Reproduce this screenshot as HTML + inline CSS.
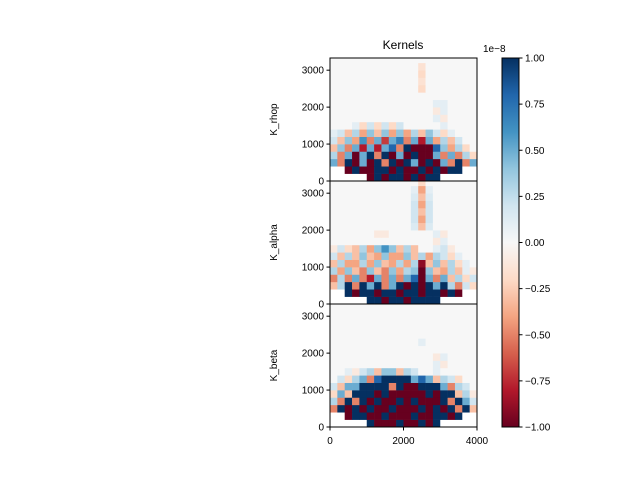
<!DOCTYPE html>
<html><head><meta charset="utf-8"><style>body{margin:0;background:#fff}svg{font-family:"Liberation Sans","DejaVu Sans",sans-serif}</style></head>
<body>
<svg id="c" width="640" height="480" xmlns="http://www.w3.org/2000/svg"></svg>
<script>
const n=null;
const panelNames=["K_rhop","K_alpha","K_beta"];
const xTicks=[0,2000,4000];
const yTicks=[0,1000,2000,3000];
const cbTicks=[1.00,0.75,0.50,0.25,0.00,-0.25,-0.50,-0.75,-1.00];
const kRhop=[
[n,n,n,n,n,-1,1,-1,1,1,-1,1,-1,1,1,n,n,n,n,n],
[n,n,-1,1,-1,-1,1,1,-1,1,-1,-1,1,-1,1,-1,1,1,n,n],
[.5,-.5,1,-1,.5,-1,1,-.5,1,-1,1,.5,-1,1,-1,.5,-.5,1,-.5,.5],
[.3,-.5,.5,-1,.5,1,-.5,1,-1,.5,-1,1,-1,-1,.5,-.5,.5,-.5,.3,-.2],
[-.3,.4,-.5,.5,-.8,.5,-.8,.5,.8,-.5,1,-1,-1,-1,.8,.4,-.4,.3,-.2,0],
[.2,-.3,.4,-.4,.6,-.5,.5,-.7,.5,.7,-.5,.5,-.8,.5,-.4,.3,-.3,.2,0,0],
[.1,.2,-.3,.3,-.4,.4,-.3,.4,-.4,.4,-.4,.3,-.3,.4,.2,-.2,.1,0,0,0],
[0,0,0,.1,-.2,.2,-.2,.2,-.2,.2,0,0,0,0,0,.1,0,0,0,0],
[0,0,0,0,0,0,0,0,0,0,0,0,0,0,.1,-.1,0,0,0,0],
[0,0,0,0,0,0,0,0,0,0,0,0,0,0,-.1,.1,0,0,0,0],
[0,0,0,0,0,0,0,0,0,0,0,0,0,0,.1,.1,0,0,0,0],
[0,0,0,0,0,0,0,0,0,0,0,0,0,0,0,0,0,0,0,0],
[0,0,0,0,0,0,0,0,0,0,0,0,-.2,0,0,0,0,0,0,0],
[0,0,0,0,0,0,0,0,0,0,0,0,-.15,0,0,0,0,0,0,0],
[0,0,0,0,0,0,0,0,0,0,0,0,-.2,0,0,0,0,0,0,0],
[0,0,0,0,0,0,0,0,0,0,0,0,-.15,0,0,0,0,0,0,0],
[0,0,0,0,0,0,0,0,0,0,0,0,0,0,0,0,0,0,0,0]];
const kAlpha=[
[n,n,n,n,n,1,1,-1,1,1,-1,1,1,1,1,n,n,n,n,n],
[n,n,1,-1,1,1,-1,1,1,-1,1,1,-1,1,1,-1,1,-1,n,n],
[-.3,.3,1,-.5,1,.5,1,-.5,.5,1,-1,1,-1,1,.5,1,.3,-.5,.2,-.2],
[-.5,.3,-.5,.5,-.5,-.8,.5,-.5,.5,-.5,.5,.8,-1,.5,-.5,.5,-.3,.3,-.2,.2],
[.3,-.4,.4,-.3,-.5,.4,-.3,-.5,.4,-.4,.3,.4,-1,.4,-.3,-.4,.3,-.3,.1,-.1],
[-.3,.3,-.4,-.4,.3,-.4,.4,-.3,-.4,.3,-.4,.3,-.9,-.3,.4,-.3,.3,-.2,.1,0],
[.2,-.3,.3,-.3,.4,-.3,-.4,.4,-.4,-.4,.4,-.3,.3,-.4,.3,.2,-.2,.1,0,0],
[-.1,.2,-.2,-.3,.3,-.4,.4,.6,.4,-.3,.3,-.3,0,0,.1,.2,-.1,0,0,0],
[0,0,0,0,0,0,0,0,0,0,0,0,0,0,-.1,.1,0,0,0,0],
[0,0,0,0,0,0,-.1,-.1,0,0,0,0,0,0,.1,-.1,0,0,0,0],
[0,0,0,0,0,0,0,0,0,0,0,.15,-.3,.15,0,0,0,0,0,0],
[0,0,0,0,0,0,0,0,0,0,0,.2,-.4,.2,0,0,0,0,0,0],
[0,0,0,0,0,0,0,0,0,0,0,.2,-.3,.2,0,0,0,0,0,0],
[0,0,0,0,0,0,0,0,0,0,0,.2,-.4,.2,0,0,0,0,0,0],
[0,0,0,0,0,0,0,0,0,0,0,.15,-.3,.15,0,0,0,0,0,0],
[0,0,0,0,0,0,0,0,0,0,0,.1,-.4,.1,0,0,0,0,0,0],
[0,0,0,0,0,0,0,0,0,0,0,0,-.2,0,0,0,0,0,0,0]];
const kBeta=[
[n,n,n,n,n,1,-1,-1,-1,1,-1,-1,1,-1,1,n,n,n,n,n],
[n,n,-1,1,1,-1,-1,1,-1,-1,-1,1,-1,-1,1,1,-1,1,n,n],
[-.5,1,-1,1,-1,1,-1,-1,1,-1,-1,-1,1,-1,1,-1,1,-.5,1,-.3],
[.3,-.5,1,-.5,1,-1,1,-1,-1,1,-1,1,-1,-1,-1,1,-.5,1,.5,.2],
[-.2,.5,-.3,1,1,1,-1,1,-1,-1,-1,-1,-1,1,-1,1,1,-.3,.3,-.1],
[.2,-.3,.5,.5,1,1,1,1,-.5,1,-1,-1,1,1,1,.5,-.5,.3,.2,0],
[0,.2,-.2,.3,.5,-.5,.8,1,1,1,1,.5,.8,.5,-.3,.3,.2,-.2,0,0],
[0,0,.1,-.1,.2,.3,-.3,.4,.4,-.3,.3,.2,0,0,.1,0,0,0,0,0],
[0,0,0,0,0,0,0,0,0,0,0,0,0,0,.1,-.1,0,0,0,0],
[0,0,0,0,0,0,0,0,0,0,0,0,0,0,-.1,.1,0,0,0,0],
[0,0,0,0,0,0,0,0,0,0,0,0,0,0,0,0,0,0,0,0],
[0,0,0,0,0,0,0,0,0,0,0,0,.1,0,0,0,0,0,0,0],
[0,0,0,0,0,0,0,0,0,0,0,0,0,0,0,0,0,0,0,0],
[0,0,0,0,0,0,0,0,0,0,0,0,0,0,0,0,0,0,0,0],
[0,0,0,0,0,0,0,0,0,0,0,0,0,0,0,0,0,0,0,0],
[0,0,0,0,0,0,0,0,0,0,0,0,0,0,0,0,0,0,0,0],
[0,0,0,0,0,0,0,0,0,0,0,0,0,0,0,0,0,0,0,0]];
const panels=[kRhop,kAlpha,kBeta];

const NS="http://www.w3.org/2000/svg",svg=document.getElementById('c');
function mk(t,a,p){const e=document.createElementNS(NS,t);for(const k in a)e.setAttribute(k,a[k]);(p||svg).appendChild(e);return e;}
const stops=["#67001f","#b2182b","#d6604d","#f4a582","#fddbc7","#f7f7f7","#d1e5f0","#92c5de","#4393c3","#2166ac","#053061"];
function hex(h){return[1,3,5].map(i=>parseInt(h.substr(i,2),16));}
function cmap(v){v=Math.max(-1,Math.min(1,v));const t=(v+1)/2*10,i=Math.min(9,Math.floor(t)),f=t-i;const a=hex(stops[i]),b=hex(stops[i+1]);return"rgb("+a.map((c,k)=>Math.round(c+(b[k]-c)*f)).join(",")+")";}
const X0=330,X1=477,W=X1-X0,PH=123,PT=[58,181,304],YMAX=3330,XMAX=4000,CW=200,CH=200;
const xs=x=>X0+x/XMAX*W;
panels.forEach((grid,p)=>{
 const ys=y=>PT[p]+PH-y/YMAX*PH;
 const g=mk('g',{'clip-path':'url(#cp'+p+')'});
 
 
 const cp=mk('clipPath',{id:'cp'+p});mk('rect',{x:X0,y:PT[p],width:W,height:PH},cp);
 mk('rect',{x:X0,y:PT[p],width:W,height:PH,fill:'#f7f7f7'},g);
 grid.forEach((row,r)=>row.forEach((v,c)=>{
  if(v===null){mk('rect',{x:xs(c*CW),y:ys((r+1)*CH),width:xs((c+1)*CW)-xs(c*CW)+0.3,height:ys(r*CH)-ys((r+1)*CH)+0.3,fill:'#fff'},g);return;}
  const cell=mk('rect',{x:xs(c*CW),y:ys((r+1)*CH),width:xs((c+1)*CW)-xs(c*CW)+0.3,height:ys(r*CH)-ys((r+1)*CH)+0.3,fill:cmap(v)},g);
  
  
 }));
 const fr=mk('rect',{x:X0,y:PT[p],width:W,height:PH,fill:'none',stroke:'#000','stroke-width':1});
 
 
 yTicks.forEach(t=>{const y=ys(t);mk('line',{x1:X0-3.5,x2:X0,y1:y,y2:y,stroke:'#000'});
  const tx=mk('text',{x:X0-6,y:y+3.5,'text-anchor':'end','font-size':10});tx.textContent=t;
  
  });
 const yl=mk('text',{x:0,y:0,'text-anchor':'middle','font-size':10,transform:`translate(277,${PT[p]+PH/2}) rotate(-90)`});
 yl.textContent=panelNames[p];
 
 
});
xTicks.forEach(t=>{const x=xs(t);mk('line',{x1:x,x2:x,y1:427,y2:430.5,stroke:'#000'});
 const tx=mk('text',{x:x,y:444,'text-anchor':'middle','font-size':10});tx.textContent=t;
 
 });
const title=mk('text',{x:403,y:49,'text-anchor':'middle','font-size':12});title.textContent='Kernels';


const defs=mk('defs',{});const lg=mk('linearGradient',{id:'cbg',x1:0,y1:1,x2:0,y2:0},defs);
stops.forEach((s,i)=>mk('stop',{offset:i/10,'stop-color':s},lg));
const CB0=58,CB1=427,cy=v=>CB1-(v+1)/2*(CB1-CB0);
const cb=mk('rect',{x:502,y:CB0,width:17,height:CB1-CB0,fill:'url(#cbg)',stroke:'#000','stroke-width':1});


cbTicks.forEach(t=>{const y=cy(t);mk('line',{x1:519,x2:522.5,y1:y,y2:y,stroke:'#000'});
 const tx=mk('text',{x:525,y:y+3.5,'font-size':10});tx.textContent=(t<0?'\u2212':'')+Math.abs(t).toFixed(2);
 
 });
const ex=mk('text',{x:483,y:52,'font-size':10});ex.textContent='1e\u22128';


</script>
</body></html>
